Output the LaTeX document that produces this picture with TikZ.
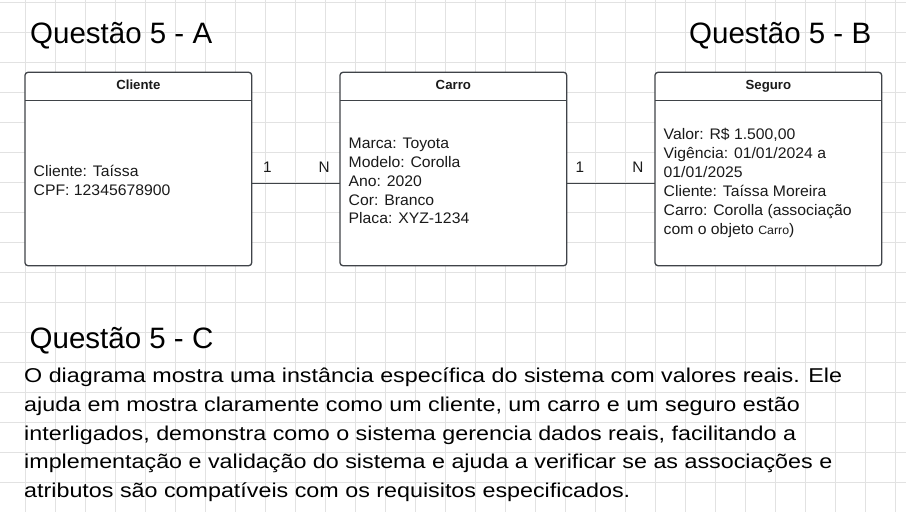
\documentclass[tikz,border=0pt]{standalone}
\usepackage{fontspec}
\setmainfont{Liberation Sans}
\newfontfamily\parafont[FakeStretch=1.165]{Liberation Sans}
\newfontfamily\attrfont[FakeStretch=1.03]{Liberation Sans}
\definecolor{gridc}{HTML}{E2E2E2}
\definecolor{linec}{HTML}{3F4348}
\definecolor{txtc}{HTML}{1A1A1A}
\begin{document}
\begin{tikzpicture}[x=1pt,y=-1pt,
  box/.style={draw=linec, line width=1.3pt, rounded corners=3pt, fill=white, inner sep=0pt, outer sep=0pt},
  conn/.style={draw=linec, line width=1.3pt},
  hdr/.style={font=\fontsize{13.2}{15}\selectfont\bfseries, text=txtc, inner sep=0pt, anchor=base},
  attr/.style={font=\attrfont\fontsize{15.3}{18.9}\selectfont, text=txtc, inner sep=0pt, anchor=base west, align=left},
  mult/.style={font=\fontsize{15.3}{18}\selectfont, text=txtc, inner sep=0pt, anchor=base west},
  title/.style={font=\fontsize{29.5}{34}\selectfont, text=black, inner sep=0pt, anchor=base west},
  para/.style={font=\parafont\fontsize{20}{28.85}\selectfont, text=black, inner sep=0pt, anchor=base west, align=left}]
\useasboundingbox (0,0) rectangle (906,512);
\fill[white] (0,0) rectangle (906,512);
\foreach \gx in {25,55,...,895} \draw[gridc, line width=0.8pt] (\gx,0) -- (\gx,512);
\foreach \gy in {2.7,32.7,...,512} \draw[gridc, line width=0.8pt] (0,\gy) -- (906,\gy);

\node[title] (ta) at (30,43.3) {Questão 5 - A};
\node[title] (tb) at (689,43.3) {Questão 5 - B};
\node[title] (tc) at (29.5,348.3) {Questão 5 - C};

\node[box, minimum width=226.7pt, minimum height=193.4pt] (cliente) at (138.35,169) {};
\node[box, minimum width=226.7pt, minimum height=193.4pt] (carro) at (453.35,169) {};
\node[box, minimum width=226.7pt, minimum height=193.4pt] (seguro) at (768.35,169) {};

\foreach \b in {cliente,carro,seguro}
  \draw[conn] ([yshift=-28.4pt]\b.north west) -- ([yshift=-28.4pt]\b.north east);

\node[hdr] (hcl) at ([yshift=-17.4pt]cliente.north) {Cliente};
\node[hdr] (hca) at ([yshift=-17.4pt]carro.north) {Carro};
\node[hdr] (hse) at ([yshift=-17.4pt]seguro.north) {Seguro};

\draw[conn] ([yshift=-14.3pt]cliente.east) -- ([yshift=-14.3pt]carro.west);
\draw[conn] ([yshift=-14.3pt]carro.east) -- ([yshift=-14.3pt]seguro.west);

\node[mult] (m1) at (262.8,172.7) {1};
\node[mult] (m2) at (318.5,172.7) {N};
\node[mult] (m3) at (575.5,172.7) {1};
\node[mult] (m4) at (632.2,172.7) {N};

\node[attr] (acl) at (33.5,195.6) {Cliente: Taíssa\\CPF: 12345678900};
\node[attr] (aca) at (348.5,223.9) {Marca: Toyota\\Modelo: Corolla\\Ano: 2020\\Cor: Branco\\Placa: XYZ-1234};
\node[attr] (ase) at (663.5,234) {Valor: R\$ 1.500,00\\Vigência: 01/01/2024 a\\01/01/2025\\Cliente: Taíssa Moreira\\Carro: Corolla (associação\\com o objeto {\fontsize{12}{14}\selectfont Carro})};

\node[para] (pc) at (24,497.7) {O diagrama mostra uma instância específica do sistema com valores reais. Ele\\ajuda em mostra claramente como um cliente, um carro e um seguro estão\\interligados, demonstra como o sistema gerencia dados reais, facilitando a\\implementação e validação do sistema e ajuda a verificar se as associações e\\atributos são compatíveis com os requisitos especificados.};
\end{tikzpicture}
\end{document}
